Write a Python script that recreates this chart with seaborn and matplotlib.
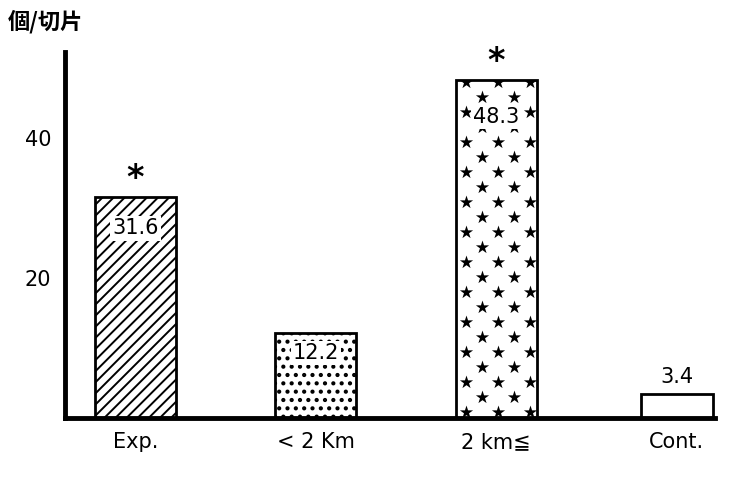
import matplotlib
matplotlib.use("Agg")
import matplotlib.pyplot as plt
import seaborn as sns
import pandas as pd
import numpy as np

categories = ["Exp.", "< 2 Km", "2 km≦", "Cont."]
values = [31.6, 12.2, 48.3, 3.4]
value_labels = ["31.6", "12.2", "48.3", "3.4"]
significant = [True, False, True, False]
hatches = ["///", "..", "", ""]
hatch_lw = [1.4, 1.8, 1.0, 1.0]
star_fill = [False, False, True, False]
y_ticks = [10, 20, 30, 40]
y_ticklabels = ["", "20", "", "40"]

sns.set_style("white")
plt.rcParams["font.family"] = ["DejaVu Sans", "Noto Sans CJK JP"]
plt.rcParams["hatch.linewidth"] = 1.4
plt.rcParams["text.color"] = "black"
plt.rcParams["xtick.color"] = "black"
plt.rcParams["ytick.color"] = "black"
plt.rcParams["axes.labelcolor"] = "black"

df = pd.DataFrame({"cat": categories, "val": values})

fig = plt.figure(figsize=(7.3, 4.83), dpi=100)
ax = fig.add_axes([0.089, 0.1346, 0.89, 0.7574])
sns.barplot(data=df, x="cat", y="val", ax=ax, color="white", width=0.45,
            edgecolor="black", linewidth=2, saturation=1)

ax.set_xlim(-0.39, 3.21)
ax.set_ylim(0, 52.3)

for i, p in enumerate(ax.patches):
    p.set_hatch(hatches[i])
    if hasattr(p, "set_hatch_linewidth"):
        p.set_hatch_linewidth(hatch_lw[i])
    p.set_facecolor("white")
    p.set_edgecolor("black")
    if i == 3:
        cx = p.get_x() + p.get_width() / 2
        p.set_width(0.40)
        p.set_x(cx - 0.20)

# star texture drawn as a staggered lattice inside the bar (pixel spacing)
fig.canvas.draw()
for i, p in enumerate(ax.patches):
    if not star_fill[i]:
        continue
    x0, y0 = ax.transData.transform((p.get_x(), 0))
    x1, y1 = ax.transData.transform((p.get_x() + p.get_width(), p.get_height()))
    dx, dy = 32.0, 15.0
    pts = []
    row = 0
    yy = y0 + 6
    while yy < y1:
        off = 10 if row % 2 == 0 else 26
        xx = x0 + off
        while xx < x1 + 5:
            pts.append((xx, yy))
            xx += dx
        yy += dy
        row += 1
    pts = np.array(pts)
    data_pts = ax.transData.inverted().transform(pts)
    sc = ax.scatter(data_pts[:, 0], data_pts[:, 1], marker="*", s=100,
                    color="black", linewidths=0, zorder=3)
    sc.set_clip_path(p)

# value labels and significance marks
offsets = [-4.5, -2.9, -5.3, 2.5]
for i, (v, lab) in enumerate(zip(values, value_labels)):
    y = v + offsets[i]
    bbox = dict(facecolor="white", edgecolor="none", pad=1.5) if offsets[i] < 0 else None
    ax.text(i, y, lab, ha="center", va="center", fontsize=15, bbox=bbox,
            zorder=5, color="black")
    if significant[i]:
        ax.text(i, v + 2.6, "*", ha="center", va="center", fontsize=24,
                fontweight="bold", color="black")

ax.set_yticks(y_ticks)
ax.set_yticklabels(y_ticklabels, fontsize=15)
ax.set_xlabel("")
ax.set_ylabel("")
ax.tick_params(axis="y", direction="in", length=5, width=1.5, pad=10,
               colors="black")
ax.tick_params(axis="x", length=0, labelsize=15, pad=10, colors="black")
for s in ["top", "right"]:
    ax.spines[s].set_visible(False)
for s in ["left", "bottom"]:
    ax.spines[s].set_linewidth(3.5)
    ax.spines[s].set_color("black")

fig.text(0.011, 0.955, "個/切片", fontsize=16, fontweight="bold", color="black",
         family=["Noto Sans CJK JP", "DejaVu Sans"], ha="left", va="center")

fig.savefig("out.png", dpi=100)
